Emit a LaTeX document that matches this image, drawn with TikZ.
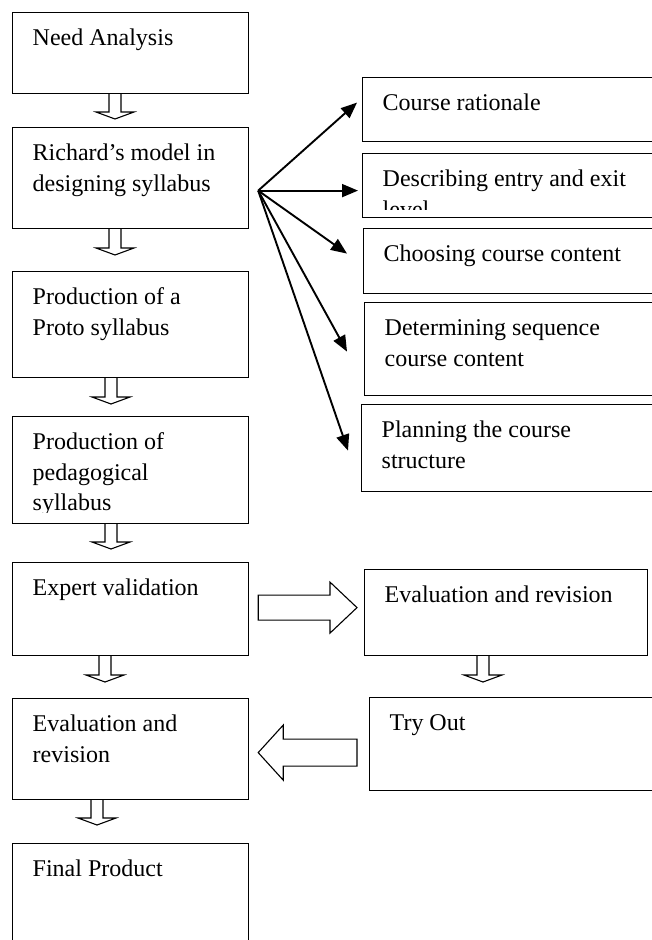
\documentclass[tikz,border=0pt]{standalone}
\usepackage{fontspec}
\setmainfont{Liberation Serif}
\usetikzlibrary{arrows.meta,calc}
\tikzset{
  box/.style={draw, line width=1.2pt, rectangle, inner sep=0pt, anchor=north west},
  lbl/.style={anchor=north west, inner sep=0pt, align=left, font=\fontsize{24}{30.5}\selectfont},
  blk/.style={draw, line width=1.1pt, line join=miter},
  ptr/.style={line width=1.9pt, -{Triangle[length=16pt,width=13pt]}},
}
% [clip margin], name, x, y, width, height, text
\newcommand\mkbox[7][9]{%
  \node[box, minimum width=#5pt, minimum height=#6pt] (#2) at (#3,#4) {};
  \begin{scope}
    \clip ([yshift=#1pt]#2.south west) rectangle (#2.north east);
    \node[lbl] (#2-txt) at ([shift={(20.5,12)}]#2.north west) {\strut #7};
  \end{scope}
}
% source, target, x centre, gap above target
\newcommand\blockdn[4]{%
  \draw[blk] let \p1=(#1.south), \p2=(#2.north) in
    (#3pt-6pt,\y1) -- (#3pt-6pt,\y2+#4pt+7pt) -- (#3pt-19pt,\y2+#4pt+7pt)
    -- (#3pt,\y2+#4pt) -- (#3pt+19pt,\y2+#4pt+7pt) -- (#3pt+6pt,\y2+#4pt+7pt)
    -- (#3pt+6pt,\y1);
}
\begin{document}
\begin{tikzpicture}[x=1pt,y=-1pt]
\path[fill=white, use as bounding box] (0,0) rectangle (652,940);

% left column
\mkbox{need}{12}{12}{236}{81}{Need Analysis}
\mkbox{rich}{12}{127}{236}{101}{Richard’s model in\\designing syllabus}
\mkbox{proto}{12}{271}{236}{106}{Production of a\\Proto syllabus}
\mkbox[12]{ped}{12}{416}{236}{107}{Production of\\pedagogical\\syllabus}
\mkbox{expert}{12}{562}{236}{93}{Expert validation}
\mkbox{evalL}{12}{698}{236}{101}{Evaluation and\\revision}
\mkbox{final}{12}{843}{236}{110}{Final Product}

% right column
\mkbox{rat}{362}{77}{300}{64}{Course rationale}
\mkbox{desc}{362}{153}{300}{64}{Describing entry and exit\\level}
\mkbox{choose}{363}{228}{300}{65}{Choosing course content}
\mkbox{det}{364}{302}{300}{93}{Determining sequence\\course content}
\mkbox{plan}{361}{404}{300}{87}{Planning the course\\structure}
\mkbox{evalR}{364}{569}{283}{86}{Evaluation and revision}
\mkbox{try}{369}{697}{300}{93}{Try Out}

% hollow down arrows
\blockdn{need}{rich}{115}{8}
\blockdn{rich}{proto}{115}{16}
\blockdn{proto}{ped}{111}{12}
\blockdn{ped}{expert}{111}{13}
\blockdn{expert}{evalL}{105}{16}
\blockdn{evalL}{final}{97}{18}
\blockdn{evalR}{try}{483}{15}

% hollow right arrow
\draw[blk] let \p1=(expert.east), \p2=(evalR.west) in
  (\x1+9pt,\y1+14pt) -- (\x2-34pt,\y1+14pt) -- (\x2-34pt,\y1+27pt)
  -- (\x2-7pt,\y1+1.5pt) -- (\x2-34pt,\y1-24pt) -- (\x2-34pt,\y1-11pt)
  -- (\x1+9pt,\y1-11pt) -- cycle;

% hollow left arrow
\draw[blk] let \p1=(try.west), \p2=(evalL.east) in
  (\x1-12pt,\y2+10pt) -- (\x2+34pt,\y2+10pt) -- (\x2+34pt,\y2+24pt)
  -- (\x2+9pt,\y2-3.5pt) -- (\x2+34pt,\y2-31pt) -- (\x2+34pt,\y2-17pt)
  -- (\x1-12pt,\y2-17pt) -- cycle;

% black arrows from Richard's model
\coordinate (hub) at ([shift={(9,12.5)}]rich.east);
\draw[ptr] (hub) -- ([shift={(-5,-7)}]rat.west);
\draw[ptr] (hub) -- ([shift={(-4,5)}]desc.west);
\draw[ptr] (hub) -- ([shift={(-16,-7.5)}]choose.west);
\draw[ptr] (hub) -- ([shift={(-17,2.5)}]det.west);
\draw[ptr] (hub) -- ([shift={(-13,2.5)}]plan.west);
\end{tikzpicture}
\end{document}
